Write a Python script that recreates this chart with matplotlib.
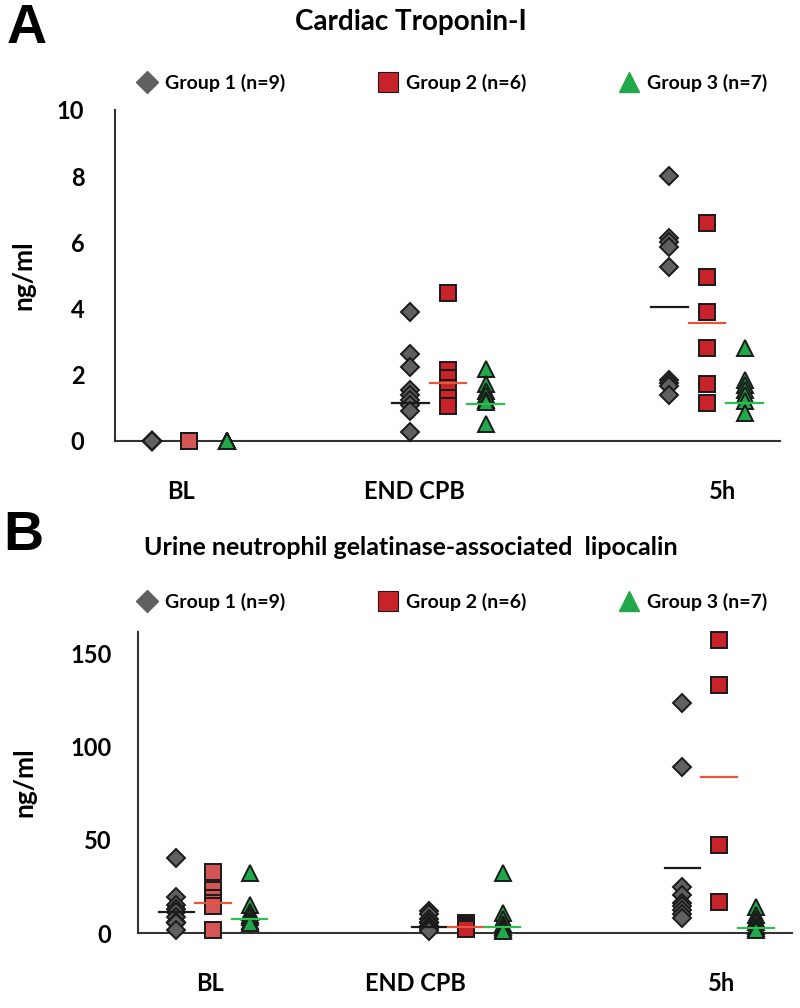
import matplotlib.pyplot as plt
from matplotlib.lines import Line2D

plt.rcParams['font.family'] = ['Lato', 'DejaVu Sans']
plt.rcParams['font.weight'] = 'bold'

# categories on x axis
cats = ['BL', 'END CPB', '5h']
groups = ['Group 1 (n=9)', 'Group 2 (n=6)', 'Group 3 (n=7)']

# Cardiac Troponin-I (ng/ml), one list per time point
tn_g1 = [[0, 0, 0, 0, 0, 0, 0, 0, 0],
         [3.9, 2.63, 2.23, 1.54, 1.39, 1.24, 1.09, 0.92, 0.28],
         [8.02, 6.13, 6.0, 5.87, 5.27, 1.84, 1.75, 1.66, 1.39]]
tn_g2 = [[0, 0, 0, 0, 0, 0],
         [4.48, 2.15, 1.9, 1.6, 1.3, 1.05],
         [6.6, 4.96, 3.9, 2.82, 1.71, 1.16]]
tn_g3 = [[0, 0, 0, 0, 0, 0, 0],
         [2.17, 1.72, 1.5, 1.39, 1.25, 1.18, 0.5],
         [2.8, 1.84, 1.7, 1.54, 1.39, 1.2, 0.85]]
tn_line_g1 = [None, 1.15, 4.06]
tn_line_g2 = [None, 1.76, 3.55]
tn_line_g3 = [None, 1.12, 1.14]

# Urine NGAL (ng/ml)
ng_g1 = [[40, 19.5, 15, 13, 11.4, 8.4, 6, 5.2, 1.6],
         [12, 10, 7.3, 6, 5.2, 4, 3, 2, 1.3],
         [123, 89, 24.8, 20.4, 16.3, 14.5, 12.3, 10, 7.9]]
ng_g2 = [[32.9, 23, 19, 16, 14.5, 1.6],
         [5.2, 4.5, 3.5, 3, 2.7, 2],
         [157, 133, 47.2, 16.8]]
ng_g3 = [[32.3, 15, 11.4, 9.5, 8.4, 6.5, 5.2],
         [32, 10.5, 7.3, 5, 3.4, 2, 1.3],
         [14, 9.6, 7.5, 6, 4, 2.5, 1.5]]
ng_line_g1 = [11.4, 3, 34.7]
ng_line_g2 = [15.9, 3, 83.8]
ng_line_g3 = [7.5, 3, 2.5]

gray = '#606060'
red = '#c8232b'
red_bl = '#d45555'
green = '#20a84a'
edge = '#1a1a1a'
offs = [-0.145, 0.0, 0.145]
markers = ['D', 's', '^']
msizes = [9, 12, 12]
line_cols = ['#1a1a1a', '#e8553a', '#2cc050']


def draw_panel(ax, series, lines, ylim, yticks, xlim, label_pos, pad):
    for gi, (data, mids) in enumerate(zip(series, lines)):
        for ci, vals in enumerate(data):
            x = [ci + offs[gi]] * len(vals)
            fc = [gray, red, green][gi]
            if gi == 1 and ci == 0:
                fc = red_bl
            ax.plot(x, vals, linestyle='none', marker=markers[gi], ms=msizes[gi],
                    mfc=fc, mec=edge, mew=1.4, clip_on=False, zorder=3)
            if mids[ci] is not None:
                ax.plot([ci + offs[gi] - 0.07, ci + offs[gi] + 0.07], [mids[ci]] * 2,
                        color=line_cols[gi], lw=1.6, zorder=4)
    ax.set_xlim(xlim)
    ax.set_ylim(ylim)
    ax.set_yticks(yticks)
    ax.set_xticks(label_pos)
    ax.set_xticklabels(cats)
    ax.tick_params(length=0, labelsize=17)
    ax.tick_params(axis='y', pad=pad)
    ax.tick_params(axis='x', pad=28)
    for s in ['top', 'right']:
        ax.spines[s].set_visible(False)
    for s in ['left', 'bottom']:
        ax.spines[s].set_color('#333333')
        ax.spines[s].set_linewidth(1.5)
    ax.set_ylabel('ng/ml', fontsize=19, fontweight='bold')


def draw_legend(fig, y):
    handles = [
        Line2D([], [], linestyle='none', marker='D', ms=11, mfc=gray, mec=gray),
        Line2D([], [], linestyle='none', marker='s', ms=14, mfc=red, mec=edge, mew=0.8),
        Line2D([], [], linestyle='none', marker='^', ms=14, mfc=green, mec=green),
    ]
    fig.legend(handles, groups, loc='center', bbox_to_anchor=(0.564, y), ncol=3,
               frameon=False, fontsize=14, handletextpad=0.3, columnspacing=4.7,
               handlelength=1.2)


fig = plt.figure(figsize=(8, 10.08), dpi=100)

axA = fig.add_axes([0.14375, 0.5625, 0.83125, 0.3284])
draw_panel(axA, [tn_g1, tn_g2, tn_g3], [tn_line_g1, tn_line_g2, tn_line_g3],
           (0, 10), [0, 2, 4, 6, 8, 10], (-0.286, 2.282), [-0.03, 0.87, 2.06], 22)
axA.yaxis.set_label_coords(-0.12, 0.5)

axB = fig.add_axes([0.1725, 0.0744, 0.8175, 0.2986])
draw_panel(axB, [ng_g1, ng_g2, ng_g3], [ng_line_g1, ng_line_g2, ng_line_g3],
           (0, 161.3), [0, 50, 100, 150], (-0.296, 2.288), [-0.01, 0.80, 2.01], 19)
axB.yaxis.set_label_coords(-0.155, 0.5)

fig.text(0.008, 0.997, 'A', fontsize=40, fontweight='bold', va='top', ha='left',
         family=['Liberation Sans', 'DejaVu Sans'])
fig.text(0.004, 0.494, 'B', fontsize=40, fontweight='bold', va='top', ha='left',
         family=['Liberation Sans', 'DejaVu Sans'])
fig.text(0.513, 0.978, 'Cardiac Troponin-I', fontsize=20, fontweight='bold', ha='center', va='center')
fig.text(0.514, 0.457, 'Urine neutrophil gelatinase-associated  lipocalin', fontsize=18,
         fontweight='bold', ha='center', va='center')

draw_legend(fig, 1 - 83 / 1008)
draw_legend(fig, 1 - 602 / 1008)

fig.savefig('out.png', dpi=100, facecolor='white')
